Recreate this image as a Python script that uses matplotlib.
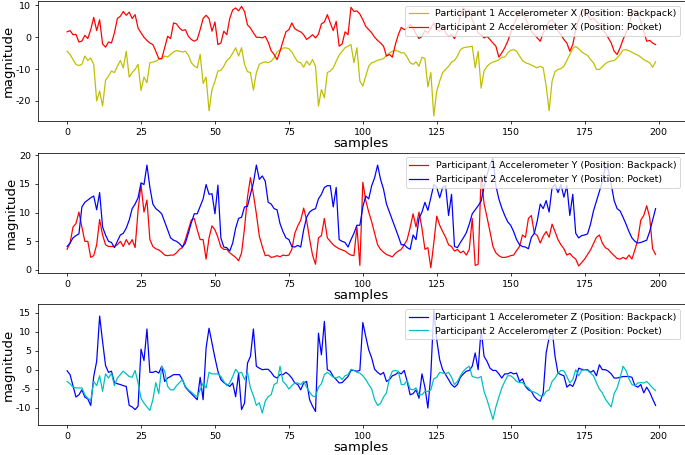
import numpy as np
import matplotlib
matplotlib.use("Agg")
import matplotlib.pyplot as plt
from matplotlib.ticker import MultipleLocator

plt.rcParams['axes.unicode_minus'] = False

samples = np.arange(200)

# Panel 1: accelerometer X
p1_x = [-4.4, -5.4, -7.0, -8.5, -8.9, -8.5, -5.9, -7.3, -6.5, -8.5,
        -20.0, -16.9, -21.6, -13.5, -12.2, -10.6, -11.1, -9.1, -7.3, -9.6,
        -4.4, -12.5, -11.1, -10.1, -8.5, -16.7, -12.5, -14.3, -8.0, -7.8,
        -7.5, -7.0, -6.7, -5.9, -6.2, -5.4, -4.6, -4.2, -4.4, -4.6,
        -4.4, -5.6, -8.0, -9.0, -9.6, -5.4, -14.5, -12.5, -23.1, -16.4,
        -13.8, -10.6, -10.4, -9.1, -7.3, -6.5, -5.0, -3.3, -5.9, -3.3,
        -8.5, -10.8, -11.1, -16.6, -11.1, -8.5, -8.0, -7.7, -8.0, -7.5,
        -6.5, -4.6, -4.0, -3.4, -3.3, -3.6, -4.6, -6.3, -7.7, -8.0,
        -9.4, -7.5, -8.75, -7.0, -9.1, -21.6, -16.4, -19.0, -11.1, -10.6,
        -9.6, -7.5, -5.6, -4.4, -3.3, -2.8, -2.3, -8.0, -3.3, -13.75,
        -15.3, -12.2, -9.1, -8.0, -7.7, -7.2, -7.0, -6.7, -5.7, -4.9,
        -4.4, -4.1, -4.4, -4.9, -4.9, -6.25, -8.0, -8.5, -7.7, -9.1,
        -6.25, -6.7, -15.6, -11.1, -24.7, -16.9, -13.75, -11.1, -10.1, -9.1,
        -7.8, -7.3, -5.9, -3.9, -3.3, -3.1, -3.0, -2.8, -9.6, -4.4,
        -16.0, -10.6, -9.1, -8.3, -7.8, -7.5, -7.1, -6.25, -6.25, -4.9,
        -4.1, -3.9, -4.4, -5.9, -7.3, -8.0, -8.3, -8.75, -9.2, -9.6,
        -9.1, -9.6, -15.3, -23.1, -13.75, -10.8, -10.1, -9.8, -9.1, -7.3,
        -5.4, -3.5, -2.9, -3.6, -4.6, -5.2, -5.7, -7.0, -8.0, -10.1,
        -10.1, -9.3, -8.3, -7.7, -7.5, -7.3, -6.5, -5.4, -4.0, -3.9,
        -4.2, -4.7, -5.2, -5.6, -6.25, -7.0, -7.5, -8.0, -9.4, -7.7]
p2_x = [1.7, 2.1, 0.8, 0.9, -1.5, -1.2, 0.6, -0.4, 2.4, 6.25,
        2.1, 5.5, -2.1, -3.1, -1.5, -1.8, 1.4, 5.9, 6.6, 8.1,
        6.9, 7.9, 5.9, 7.1, 2.9, 1.4, 0.0, -1.0, -1.8, -2.3,
        -4.4, -6.7, -6.7, -3.3, 0.3, -0.4, 4.5, 4.2, 2.9, 2.1,
        2.4, 0.3, -0.7, -1.25, -0.7, 2.4, 5.9, 6.9, 5.9, 1.9,
        4.8, -2.3, -1.8, 1.9, 0.8, 5.9, 8.6, 9.2, 8.3, 9.7,
        8.1, 3.9, 2.9, 1.4, 0.0, 0.0, -0.2, 0.3, -1.5, -4.2,
        -5.4, -7.0, -4.4, -1.25, 1.7, 2.4, 4.5, 2.7, 2.1, 1.7,
        0.8, -0.7, 0.0, 0.8, -0.2, 1.0, 4.2, 4.8, 7.1, 4.5,
        2.1, 5.0, -2.8, -2.1, 1.7, 0.8, 9.4, 8.1, 8.3, 7.3,
        5.5, 3.4, 2.4, 1.4, 0.0, -1.0, -1.8, -2.8, -5.9, -5.4,
        -6.25, -2.3, 0.8, 3.1, 2.4, 2.9, 4.0, 2.9, 1.0, -0.4,
        0.3, 2.1, 1.4, 2.9, 4.5, 2.4, 1.9, 3.75, 1.4, 0.3,
        0.8, -0.4, 1.9, 7.1, 9.2, 8.1, 8.6, 5.5, 3.4, 1.4,
        0.8, -0.2, 0.3, -0.7, -1.8, -2.8, -6.25, -4.9, -3.3, -1.25,
        1.4, 4.0, 6.0, 8.1, 7.6, 6.0, 4.0, 1.9, 0.8, -0.2,
        -1.25, 1.4, 2.9, 5.0, 5.5, 4.0, 1.9, 0.8, -0.7, -1.8,
        -4.4, -2.3, 2.4, 5.5, 8.1, 8.6, 7.1, 5.5, 6.0, 5.0,
        4.0, 2.4, 1.4, -0.2, -1.8, -4.4, -5.4, -3.3, -0.7, 1.4,
        4.0, 7.1, 8.6, 7.6, 5.0, 1.9, -1.25, -1.0, -1.8, -2.3]

# Panel 2: accelerometer Y
p1_y = [3.6, 4.7, 7.5, 8.1, 10.1, 7.5, 5.0, 5.0, 2.2, 2.5,
        4.4, 8.8, 6.1, 4.4, 4.1, 4.1, 4.1, 4.4, 5.0, 4.1,
        5.3, 4.4, 5.3, 3.9, 10.4, 14.9, 10.1, 12.2, 5.3, 4.1,
        3.7, 3.5, 3.1, 2.6, 2.5, 2.6, 2.6, 3.0, 3.6, 3.9,
        5.3, 7.0, 8.7, 9.0, 7.0, 5.3, 5.3, 1.9, 5.6, 7.7,
        7.0, 5.7, 4.0, 3.6, 3.6, 3.0, 2.6, 2.2, 1.6, 3.0,
        7.3, 12.7, 16.1, 13.2, 9.8, 5.9, 4.1, 2.5, 2.6, 2.2,
        2.3, 2.5, 2.3, 2.6, 2.5, 2.6, 3.6, 6.4, 7.7, 8.7,
        10.8, 8.7, 5.4, 2.6, 1.0, 5.6, 6.0, 9.0, 5.6, 5.0,
        4.4, 4.0, 3.7, 3.5, 3.3, 2.9, 2.6, 2.5, 7.5, 0.8,
        15.3, 12.1, 10.1, 8.4, 6.4, 4.4, 3.6, 3.1, 2.7, 2.5,
        2.3, 2.9, 3.3, 3.6, 4.4, 5.3, 7.4, 9.8, 7.5, 10.1,
        7.3, 3.6, 3.9, 0.4, 4.7, 9.4, 7.8, 6.7, 5.7, 4.4,
        4.1, 3.3, 3.6, 3.0, 3.3, 2.6, 3.6, 9.0, 0.8, 1.0,
        16.5, 11.6, 9.2, 6.7, 4.1, 3.0, 2.5, 2.2, 2.2, 2.3,
        2.5, 2.6, 3.4, 4.1, 6.1, 5.7, 9.0, 9.5, 6.4, 6.0,
        4.7, 5.9, 6.7, 5.7, 8.0, 6.7, 5.3, 4.4, 3.7, 2.6,
        2.9, 2.3, 1.9, 0.7, 1.3, 1.9, 2.7, 3.5, 4.6, 5.7,
        6.1, 4.7, 3.9, 3.6, 3.0, 2.5, 2.0, 1.9, 2.2, 1.9,
        2.6, 1.9, 3.5, 5.3, 8.7, 9.5, 11.2, 9.2, 3.7, 2.7]
p2_y = [4.1, 4.7, 5.6, 6.0, 6.3, 11.0, 11.8, 12.2, 12.6, 12.9,
        10.5, 13.5, 7.5, 6.1, 5.0, 4.8, 3.9, 5.0, 6.1, 6.4,
        7.3, 8.7, 10.7, 11.5, 12.6, 15.2, 14.9, 18.3, 14.4, 11.5,
        10.7, 10.3, 9.8, 8.4, 7.0, 5.6, 5.2, 5.0, 4.6, 4.0,
        4.7, 6.4, 8.2, 9.8, 9.8, 11.1, 12.4, 14.9, 13.2, 13.3,
        9.8, 14.8, 5.6, 4.0, 3.9, 3.3, 4.7, 7.3, 9.0, 9.2,
        11.0, 11.1, 13.2, 15.2, 18.3, 15.8, 16.4, 15.5, 11.8, 11.5,
        10.7, 10.5, 8.1, 6.7, 5.6, 5.3, 4.1, 4.0, 4.3, 4.0,
        7.0, 9.2, 10.1, 10.5, 10.7, 12.4, 13.2, 14.4, 14.7, 14.7,
        11.0, 14.4, 5.3, 5.0, 4.8, 4.0, 5.3, 6.4, 7.8, 7.8,
        11.0, 12.9, 12.4, 14.7, 16.1, 18.3, 15.8, 14.1, 11.5, 10.1,
        8.7, 7.3, 5.9, 4.4, 4.4, 3.9, 3.6, 6.1, 5.3, 9.0,
        10.1, 11.8, 10.4, 12.6, 14.9, 14.4, 12.6, 14.4, 14.7, 9.5,
        13.2, 4.1, 3.9, 4.8, 5.6, 6.5, 8.0, 9.8, 10.5, 11.2,
        12.0, 14.5, 16.6, 18.3, 19.5, 14.7, 12.4, 10.8, 9.5, 8.4,
        7.8, 6.7, 5.3, 4.4, 4.1, 4.0, 3.7, 5.7, 6.4, 8.6,
        11.5, 10.7, 12.1, 10.1, 14.4, 14.9, 13.5, 14.9, 12.7, 14.7,
        9.5, 13.2, 6.4, 5.6, 6.0, 6.1, 6.3, 8.0, 10.3, 12.0,
        13.7, 15.4, 18.0, 17.5, 14.9, 12.1, 10.7, 10.3, 9.2, 8.0,
        6.7, 5.6, 5.0, 4.7, 4.8, 5.0, 5.2, 6.7, 8.7, 10.7]

# Panel 3: accelerometer Z
p1_z = [-0.3, -1.3, -4.2, -7.2, -6.6, -5.3, -7.2, -7.7, -9.4, -1.8,
        2.2, 14.1, 7.4, 1.1, -0.7, -0.4, -3.4, -3.7, -3.9, -4.2,
        -4.4, -9.4, -9.8, -10.5, -9.6, 5.4, 2.4, 10.7, -0.7, -0.7,
        -0.4, -0.9, 0.9, -3.1, -2.2, -1.8, -1.3, -1.3, -1.3, -2.6,
        -4.6, -5.5, -6.3, -7.1, -7.9, -2.0, -7.9, 5.7, 10.9, 7.0,
        3.1, -0.4, -2.6, -3.4, -3.9, -4.4, -3.5, -7.1, -0.9, -10.5,
        -8.8, 1.7, 3.5, 10.7, 0.9, 0.4, 0.0, 0.1, 0.1, -0.7,
        -1.8, -2.2, -1.3, -1.3, -0.7, -1.3, -2.2, -3.5, -3.9, -5.3,
        -3.5, -3.1, -7.9, -9.6, -11.0, 9.6, 3.9, 12.7, 0.0, -0.4,
        -1.8, -2.6, -3.5, -3.4, -2.6, -1.8, -0.2, -0.2, -0.4, -0.2,
        12.4, 8.7, 5.2, 3.1, 0.1, -0.7, -1.3, -0.7, -3.1, -2.6,
        -1.6, -1.3, -0.7, -1.1, -0.2, -3.1, -6.6, -6.3, -5.3, -7.5,
        -1.1, -4.6, -10.1, -1.3, 15.7, 7.9, 2.6, 0.0, -1.3, -2.6,
        -3.9, -4.6, -3.9, -2.0, -1.1, -0.4, -0.2, 0.9, 4.4, 0.0,
        10.7, 3.5, 2.2, 0.4, -0.2, -0.2, -1.1, -2.2, -1.1, -1.1,
        -0.7, -1.1, -0.9, -3.1, -2.4, -4.4, -5.3, -5.7, -7.1, -7.9,
        -8.3, -6.1, 4.4, 8.4, 10.7, 3.5, -0.9, -1.3, -1.6, -4.6,
        -3.9, -4.4, -2.6, 0.4, 0.1, 0.0, 0.0, -0.7, -0.2, -1.6,
        1.3, 0.0, 0.0, -0.4, -1.1, -2.2, -2.2, -2.0, -1.8, -1.8,
        -1.8, -2.0, -4.2, -4.6, -3.9, -6.1, -4.6, -5.9, -7.7, -9.4]
p2_z = [-3.1, -3.7, -4.6, -4.8, -4.8, -4.8, -6.6, -7.5, -8.1, -3.1,
        -4.2, -1.6, -5.7, -1.1, -2.2, -0.9, -4.2, -2.2, -1.3, -0.4,
        -1.1, -1.8, -2.0, -0.2, -3.5, -7.5, -8.8, -9.8, -10.7, -7.9,
        -3.4, -6.3, 0.9, -0.4, -4.4, -5.3, -5.3, -4.2, -3.4, -2.6,
        -4.4, -5.3, -5.9, -6.6, -7.1, -5.3, -3.5, -4.8, -0.7, -1.1,
        -1.1, -1.1, -1.8, -3.1, -4.2, -3.5, -1.8, 0.1, -0.9, -0.7,
        -2.6, -0.7, -4.8, -6.8, -9.4, -8.7, -11.4, -8.3, -7.1, -6.6,
        -3.9, -3.5, 0.9, -3.1, -3.9, -5.1, -4.2, -3.5, -3.5, -3.9,
        -3.1, -4.6, -5.9, -6.9, -7.1, -4.6, -3.7, -1.3, -0.7, -1.3,
        -2.0, -2.2, -1.8, -2.6, -1.6, -1.3, 0.1, -0.2, -0.7, -0.9,
        -1.6, -2.6, -3.9, -5.1, -7.9, -9.4, -8.8, -7.2, -6.1, -2.2,
        -0.4, -0.2, -0.4, -3.9, -3.9, -2.8, -5.1, -5.3, -4.8, -6.6,
        -6.6, -5.7, -5.7, -5.3, -2.4, -2.0, -0.7, -0.9, -1.1, -0.7,
        -2.0, -3.9, -3.1, -1.6, -0.4, 0.4, 0.9, -1.8, -2.0, -2.2,
        -1.8, -5.7, -7.9, -10.5, -13.1, -9.8, -7.2, -4.8, -3.1, -1.6,
        -1.6, -2.2, -3.1, -3.4, -3.4, -4.2, -4.8, -5.7, -5.9, -6.3,
        -6.9, -6.9, -5.7, -5.3, -3.1, -2.2, -0.9, -0.2, -0.3, -1.8,
        -3.5, -2.6, 0.0, -1.6, -0.2, 0.0, -0.2, -0.9, -1.6, -3.4,
        -5.1, -6.1, -7.7, -8.8, -9.8, -6.3, -4.8, -2.2, 0.9, -0.2,
        -2.4, -3.9, -4.2, -3.5, -3.4, -3.5, -3.1, -3.9, -4.8, -5.5]

panels = [
    (p1_x, 'y', 'Participant 1 Accelerometer X (Position: Backpack)',
     p2_x, 'r', 'Participant 2 Accelerometer X (Position: Pocket)', 10),
    (p1_y, 'r', 'Participant 1 Accelerometer Y (Position: Backpack)',
     p2_y, 'b', 'Participant 2 Accelerometer Y (Position: Pocket)', 5),
    (p1_z, 'b', 'Participant 1 Accelerometer Z (Position: Backpack)',
     p2_z, 'c', 'Participant 2 Accelerometer Z (Position: Pocket)', 5),
]

fig, axes = plt.subplots(3, 1, figsize=(685 / 68, 455 / 68), dpi=68)
fig.subplots_adjust(left=0.055, right=1.0, top=0.998, bottom=0.066, hspace=0.26)

for ax, (a, ca, la, b, cb, lb, ystep) in zip(axes, panels):
    ax.plot(samples, a, color=ca, lw=1.3, label=la)
    ax.plot(samples, b, color=cb, lw=1.3, label=lb)
    ax.set_xticks(np.arange(0, 201, 25))
    ax.yaxis.set_major_locator(MultipleLocator(ystep))
    ax.set_xlabel('samples', fontsize=14, labelpad=0)
    ax.set_ylabel('magnitude', fontsize=14, labelpad=1)
    ax.legend(loc='upper right')

fig.savefig('out.png', dpi=68)
